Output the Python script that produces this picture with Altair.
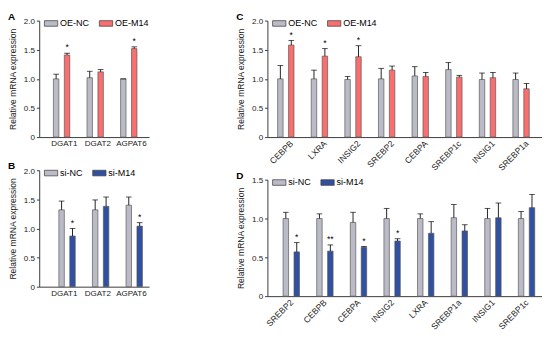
import altair as alt
import pandas as pd

# ---------------- data ----------------
A_genes = ["DGAT1", "DGAT2", "AGPAT6"]
A_groups = ["OE-NC", "OE-M14"]
A_nc = [1.00, 1.02, 1.00]
A_nc_err = [0.08, 0.11, 0.00]
A_m14 = [1.41, 1.12, 1.52]
A_m14_err = [0.03, 0.04, 0.03]
A_stars = ["*", "", "*"]

B_genes = ["DGAT1", "DGAT2", "AGPAT6"]
B_groups = ["si-NC", "si-M14"]
B_nc = [1.32, 1.32, 1.40]
B_nc_err = [0.15, 0.17, 0.14]
B_m14 = [0.87, 1.38, 1.04]
B_m14_err = [0.13, 0.16, 0.06]
B_stars = ["*", "", "*"]

C_genes = ["CEBPB", "LXRA", "INSIG2", "SREBP2", "CEBPA", "SREBP1c", "INSIG1", "SREBP1a"]
C_groups = ["OE-NC", "OE-M14"]
C_nc = [1.00, 1.00, 0.99, 1.00, 1.05, 1.16, 0.99, 0.99]
C_nc_err = [0.23, 0.15, 0.05, 0.18, 0.16, 0.12, 0.11, 0.11]
C_m14 = [1.58, 1.39, 1.38, 1.15, 1.04, 1.03, 1.02, 0.83]
C_m14_err = [0.08, 0.13, 0.19, 0.07, 0.07, 0.03, 0.09, 0.09]
C_stars = ["*", "*", "*", "", "", "", "", ""]

D_genes = ["SREBP2", "CEBPB", "CEBPA", "INSIG2", "LXRA", "SREBP1a", "INSIG1", "SREBP1c"]
D_groups = ["si-NC", "si-M14"]
D_nc = [1.00, 1.00, 0.95, 1.00, 1.00, 1.01, 1.00, 1.00]
D_nc_err = [0.08, 0.06, 0.13, 0.13, 0.06, 0.17, 0.13, 0.09]
D_m14 = [0.57, 0.58, 0.63, 0.71, 0.81, 0.84, 1.01, 1.14]
D_m14_err = [0.12, 0.08, 0.01, 0.03, 0.15, 0.08, 0.19, 0.17]
D_stars = ["*", "**", "*", "*", "", "", "", ""]

Y_TICKS_2 = [0, 0.5, 1.0, 1.5, 2.0]
Y_TICKS_15 = [0, 0.5, 1.0, 1.5]

GRAY = "#bbbbc8"
RED = "#f96f6f"
BLUE = "#3050a2"

RECT = "M-1,-0.42L1,-0.42L1,0.42L-1,0.42Z"


def make_df(genes, groups, nc, nc_err, m14, m14_err, stars):
    rows = []
    for i, g in enumerate(genes):
        rows.append(dict(gene=g, group=groups[0], value=nc[i], top=nc[i] + nc_err[i], star=""))
        rows.append(dict(gene=g, group=groups[1], value=m14[i], top=m14[i] + m14_err[i], star=stars[i]))
    return pd.DataFrame(rows)


def panel(letter, genes, groups, nc, nc_err, m14, m14_err, stars, color2,
          width, ymax, yticks, angle, pi, po, al, xfs):
    df = make_df(genes, groups, nc, nc_err, m14, m14_err, stars)
    xaxis = alt.Axis(title=None, ticks=False, labelAngle=angle, labelFontSize=xfs,
                     labelPadding=2, domainColor="#333")
    x = alt.X("gene:N", sort=genes, axis=xaxis,
              scale=alt.Scale(paddingInner=pi, paddingOuter=po, align=al))
    xo = alt.XOffset("group:N", sort=groups, scale=alt.Scale(paddingInner=0, paddingOuter=0))
    ysc = alt.Scale(domain=[0, ymax], nice=False, zero=True)
    # main axis: whole-number ticks, title and axis line
    yax1 = alt.Axis(values=yticks[::2], orient="left", title="Relative mRNA expression",
                    titleFontSize=9, titleFontWeight="normal", titlePadding=6,
                    labelFontSize=8.5, labelPadding=2, tickSize=3,
                    labelOverlap=False,
                    labelExpr="datum.value == 0 ? '0' : format(datum.value, '.1f')",
                    grid=False)
    # companion axis on the same side for the half-step ticks
    yax2 = alt.Axis(values=yticks[1::2], orient="left", title=None, domain=False,
                    labelFontSize=8.5, labelPadding=2, tickSize=3,
                    labelOverlap=False, format=".1f", grid=False)
    color = alt.Color("group:N", sort=groups,
                      scale=alt.Scale(domain=groups, range=[GRAY, color2]),
                      legend=alt.Legend(orient="none", legendX=5, legendY=-5,
                                        direction="horizontal", title=None,
                                        symbolType=RECT, symbolSize=196,
                                        symbolStrokeColor="#444", symbolStrokeWidth=0.8,
                                        symbolOpacity=1,
                                        labelFontSize=9.5, labelOffset=2,
                                        columnPadding=8))
    base = alt.Chart(df)
    bars = base.mark_bar(stroke="#555", strokeWidth=0.7).encode(
        x=x, xOffset=xo, y=alt.Y("value:Q", scale=ysc, axis=yax1), color=color)
    rule = base.mark_rule(color="black", strokeWidth=0.9).encode(
        x=x, xOffset=xo, y=alt.Y("value:Q", scale=ysc, axis=yax2), y2=alt.Y2("top:Q"))
    cap = base.mark_tick(color="black", thickness=1, size=6, orient="horizontal").encode(
        x=x, xOffset=xo, y=alt.Y("top:Q", scale=ysc, axis=None))
    txt = base.mark_text(baseline="bottom", dy=-1, fontSize=9, color="black").encode(
        x=x, xOffset=xo, y=alt.Y("top:Q", scale=ysc, axis=None), text="star:N")
    lab = alt.Chart(pd.DataFrame({"t": [letter]})).mark_text(
        align="left", baseline="alphabetic", fontSize=10.5, fontWeight="bold", color="black"
    ).encode(x=alt.value(-33), y=alt.value(-1), text="t:N")
    return alt.layer(bars, rule, cap, txt, lab).resolve_axis(y="independent").properties(
        width=width, height=123)


pA = panel("A", A_genes, A_groups, A_nc, A_nc_err, A_m14, A_m14_err, A_stars, RED,
           116, 2.0, Y_TICKS_2, 0, 0.35, 0.31, 0.68, 8.5)
pB = panel("B", B_genes, B_groups, B_nc, B_nc_err, B_m14, B_m14_err, B_stars, BLUE,
           116, 2.0, Y_TICKS_2, 0, 0.35, 0.31, 0.68, 8.5)
pC = panel("C", C_genes, C_groups, C_nc, C_nc_err, C_m14, C_m14_err, C_stars, RED,
           290, 2.0, Y_TICKS_2, -45, 0.32, 0.245, 0.62, 9)
pD = panel("D", D_genes, D_groups, D_nc, D_nc_err, D_m14, D_m14_err, D_stars, BLUE,
           290, 1.5, Y_TICKS_15, -45, 0.32, 0.245, 0.62, 9)

left = alt.vconcat(pA, pB, spacing=15).resolve_scale(color="independent")
right = alt.vconcat(pC, pD, spacing=-2).resolve_scale(color="independent")

chart = alt.hconcat(left, right, spacing=92,
                    padding={"top": -5, "left": 0, "right": 0, "bottom": 0}).resolve_scale(
    color="independent", x="independent", y="independent"
).configure(font="Liberation Sans").configure_view(stroke=None).configure_axis(
    domainColor="#333", tickColor="#333", labelColor="#222", titleColor="#222"
)

chart.save("out.html", embed_options={"renderer": "svg", "actions": False})
